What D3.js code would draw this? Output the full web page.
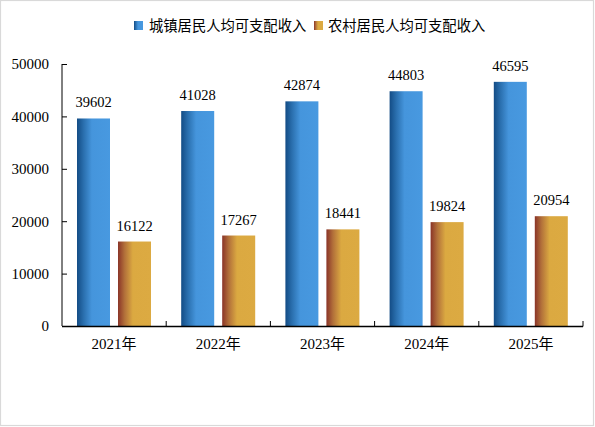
<!DOCTYPE html>
<html><head><meta charset="utf-8">
<script src="https://cdn.jsdelivr.net/npm/d3@7"></script>
<style>html,body{margin:0;padding:0;background:#fff;}svg{display:block;}</style>
</head><body>
<script>
const categories = ["2021年","2022年","2023年","2024年","2025年"];
const seriesNames = ["城镇居民人均可支配收入","农村居民人均可支配收入"];
const urban = [39602,41028,42874,44803,46595];
const rural = [16122,17267,18441,19824,20954];
const yTicks = [0,10000,20000,30000,40000,50000];

const W=595,H=427;
const svg=d3.select("body").append("svg").attr("width",W).attr("height",H);
const defs=svg.append("defs");
function grad(id,stops){
  const g=defs.append("linearGradient").attr("id",id).attr("x1","0%").attr("x2","100%").attr("y1","0%").attr("y2","0%");
  stops.forEach(s=>g.append("stop").attr("offset",s[0]).attr("stop-color",s[1]));
}
grad("gBlue",[["0%","#134c85"],["20%","#2a6fae"],["45%","#4595dc"],["100%","#4899e0"]]);
grad("gGold",[["0%","#8a3428"],["20%","#b2703a"],["45%","#dba941"],["100%","#dcaa42"]]);
const fills=["url(#gBlue)","url(#gGold)"];

svg.append("rect").attr("x",0.5).attr("y",0.5).attr("width",593).attr("height",425)
  .attr("fill","#fff").attr("stroke","#d9d9d9").attr("stroke-width",1.2);

const x0=62,x1=583,yTop=64,yBot=326;
const x=d3.scaleBand().domain(categories).range([x0,x1]).paddingInner(0).paddingOuter(0);
const y=d3.scaleLinear().domain([0,50000]).range([yBot,yTop]);
const bw=x.bandwidth();
const barW=bw*33/104.2, off=bw*15/104.2, gap=bw*8/104.2;

const data=[urban,rural];
data.forEach((vals,si)=>{
  const g=svg.append("g");
  g.selectAll("rect").data(vals).join("rect")
    .attr("x",(d,i)=>x(categories[i])+off+si*(barW+gap))
    .attr("y",d=>y(d)).attr("width",barW).attr("height",d=>yBot-y(d))
    .attr("fill",fills[si]);
  g.selectAll("text").data(vals).join("text")
    .attr("x",(d,i)=>x(categories[i])+off+si*(barW+gap)+barW/2)
    .attr("y",d=>y(d)-11)
    .attr("text-anchor","middle")
    .attr("font-family","'Liberation Serif','Times New Roman',serif")
    .attr("font-size","14.5px").attr("fill","#000")
    .text(d=>d);
});

// y axis
const ya=svg.append("g").attr("transform",`translate(${x0},0)`)
  .call(d3.axisLeft(y).tickValues(yTicks).tickSize(-5).tickPadding(13).tickFormat(d3.format("d")));
ya.select(".domain").attr("d",`M0,${yTop}V${yBot}`).attr("stroke","#000");
ya.selectAll(".tick line").attr("stroke","#000");
ya.selectAll(".tick text").attr("font-family","'Liberation Serif','Times New Roman',serif").attr("font-size","15px").attr("fill","#000");

// x axis
const xa=svg.append("g").attr("transform",`translate(0,${yBot})`);
xa.append("line").attr("x1",x0).attr("x2",x1).attr("y1",0.5).attr("y2",0.5).attr("stroke","#000").attr("stroke-width",1.3);
const bounds=categories.map(c=>x(c)+bw);
xa.selectAll("line.t").data(bounds).join("line").attr("class","t")
  .attr("x1",d=>d).attr("x2",d=>d).attr("y1",-5).attr("y2",0.5).attr("stroke","#000");
xa.selectAll("text").data(categories).join("text")
  .attr("x",d=>x(d)+bw/2).attr("y",23).attr("text-anchor","middle")
  .attr("font-family","'Liberation Serif','Noto Sans CJK SC',serif")
  .attr("font-size","15px").attr("fill","#000").text(d=>d);

// legend
const leg=[{sx:134,tx:149},{sx:314,tx:328}];
seriesNames.forEach((n,i)=>{
  svg.append("rect").attr("x",leg[i].sx).attr("y",21).attr("width",9).attr("height",9).attr("fill",fills[i]);
  svg.append("text").attr("x",leg[i].tx).attr("y",30.5)
    .attr("font-family","'Noto Sans CJK SC',sans-serif").attr("font-size","14.3px").attr("fill","#000").text(n);
});
</script>
</body></html>
